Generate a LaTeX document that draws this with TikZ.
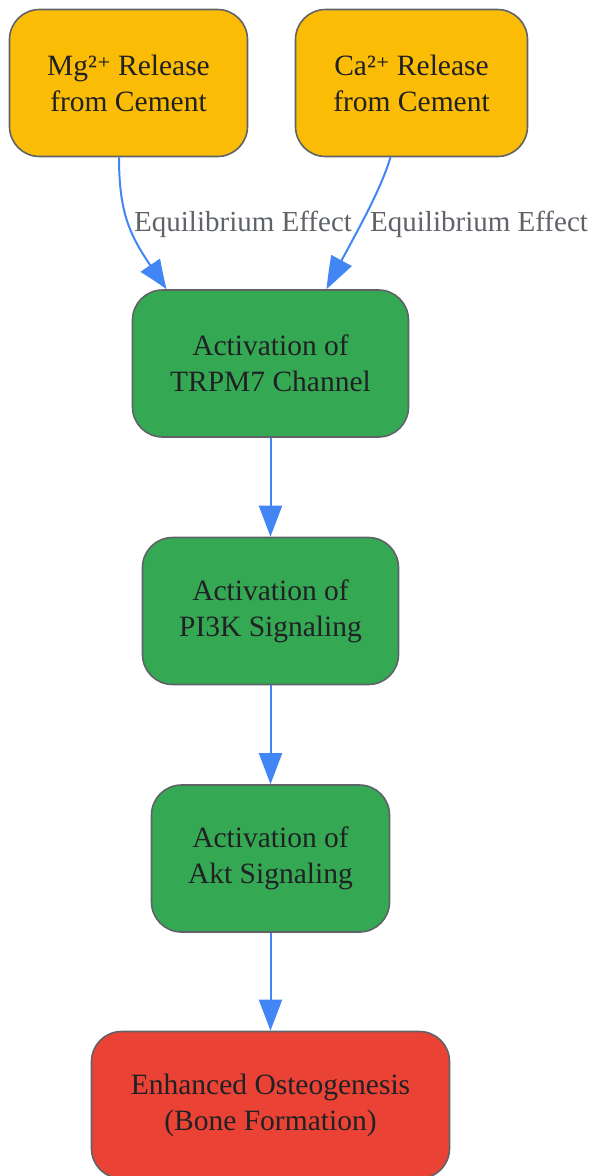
\documentclass[tikz,border=0pt]{standalone}
\usepackage{fontspec}
\setmainfont{Liberation Serif}
\newfontfamily\supfont{DejaVu Serif}
\usetikzlibrary{arrows.meta,bending}
\definecolor{ionyellow}{HTML}{FBBC05}
\definecolor{pathgreen}{HTML}{34A853}
\definecolor{outred}{HTML}{EA4335}
\definecolor{linkblue}{HTML}{4285F4}
\definecolor{rimgray}{HTML}{5F6368}
\definecolor{inkdark}{HTML}{202124}
\newcommand{\ionplus}{{\supfont\fontsize{26}{36}\selectfont ⁺}}
\begin{document}
\begin{tikzpicture}[x=1pt, y=-1pt,
    stage/.style={draw=rimgray, line width=1.6pt, rounded corners=30pt, minimum height=147pt,
      align=center, text=inkdark, font=\fontsize{29.5}{36}\selectfont, inner sep=0pt},
    link/.style={draw=linkblue, line width=2pt, -{Triangle[length=31pt,width=23pt,bend]}},
    edgetext/.style={text=rimgray, font=\fontsize{29}{34}\selectfont, inner sep=0pt}]
      \useasboundingbox (0,0) rectangle (592,1176);

      % Ion release
      \node[stage, fill=ionyellow, minimum width=238pt] (mg) at (128.5,83) {Mg²\ionplus{} Release\\from Cement};
      \node[stage, fill=ionyellow, minimum width=232pt] (ca) at (411.5,83) {Ca²\ionplus{} Release\\from Cement};

      % Signalling chain
      \node[stage, fill=pathgreen, minimum width=276pt] (trpm) at (270.5,363.5) {Activation of\\TRPM7 Channel};
      \node[stage, fill=pathgreen, minimum width=256pt] (pik) at (270.5,611) {Activation of\\PI3K Signaling};
      \node[stage, fill=pathgreen, minimum width=238pt] (akt) at (270.5,858.5) {Activation of\\Akt Signaling};

      % Outcome
      \node[stage, fill=outred, minimum width=358pt] (bone) at (270.5,1105) {Enhanced Osteogenesis\\(Bone Formation)};

      % Connectors
      \draw[link] ([xshift=-9.5pt]mg.south) .. controls +(0,70) and +(-30,-45) .. ([xshift=-104pt]trpm.north);
      \draw[link] ([xshift=-21pt]ca.south) .. controls +(-12,40) and +(20,-40) .. ([xshift=56pt]trpm.north);
      \draw[link] (trpm) -- (pik);
      \draw[link] (pik) -- (akt);
      \draw[link] (akt) -- (bone);

      % Edge labels
      \node[edgetext, anchor=west] (lblmg) at (134,224) {Equilibrium Effect};
      \node[edgetext, anchor=west] (lblca) at (370,224) {Equilibrium Effect};
    \end{tikzpicture}
\end{document}
